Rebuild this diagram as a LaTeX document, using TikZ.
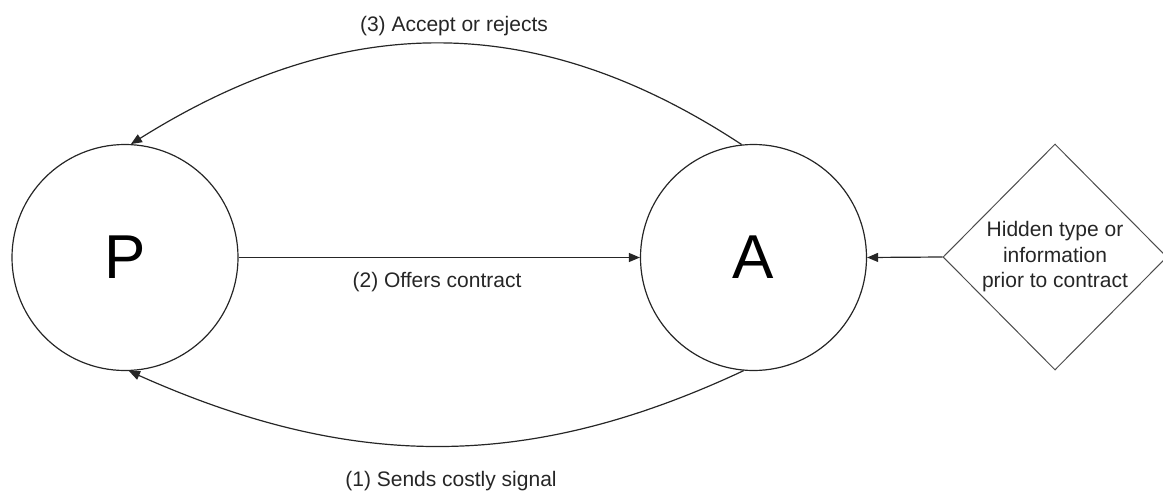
\documentclass[tikz,border=0pt]{standalone}
\usepackage{fontspec}
\setmainfont{Liberation Sans}
\usetikzlibrary{shapes.geometric,arrows.meta}
\begin{document}
\begin{tikzpicture}[x=1pt,y=-1pt,
  conn/.style={line width=1.2pt, draw=black!85, -{Triangle[length=11pt,width=9pt]}},
  agent/.style={circle, draw=black!85, line width=1.2pt, minimum size=226pt, inner sep=0pt, font=\fontsize{62}{70}\selectfont},
  lbl/.style={font=\fontsize{21}{25}\selectfont, inner sep=0pt, text=black!85},
  info/.style={diamond, draw=black!70, line width=1pt, minimum width=224pt, minimum height=226pt, inner sep=0pt, align=center, text=black!85, font=\fontsize{21}{25.5}\selectfont}]
\useasboundingbox (0,0) rectangle (1163,496);
\node[agent] (P) at (125,257.5) {P};
\node[agent] (A) at (753.5,257.5) {A};
\node[info] (D) at (1055,257) {Hidden type or\\information\\prior to contract};
\draw[conn] (P.east) -- (A.west);
\draw[conn] (D.west) -- (A.east);
\draw[conn] (A.96) .. controls (537,10) and (345,10) .. (P.87);
\draw[conn] (A.-95) .. controls (529,471) and (353,471) .. (P.-88);
\node[lbl] (l3) at (454,26) {(3) Accept or rejects};
\node[lbl] (l2) at (437,282) {(2) Offers contract};
\node[lbl] (l1) at (451,481) {(1) Sends costly signal};
\end{tikzpicture}
\end{document}
